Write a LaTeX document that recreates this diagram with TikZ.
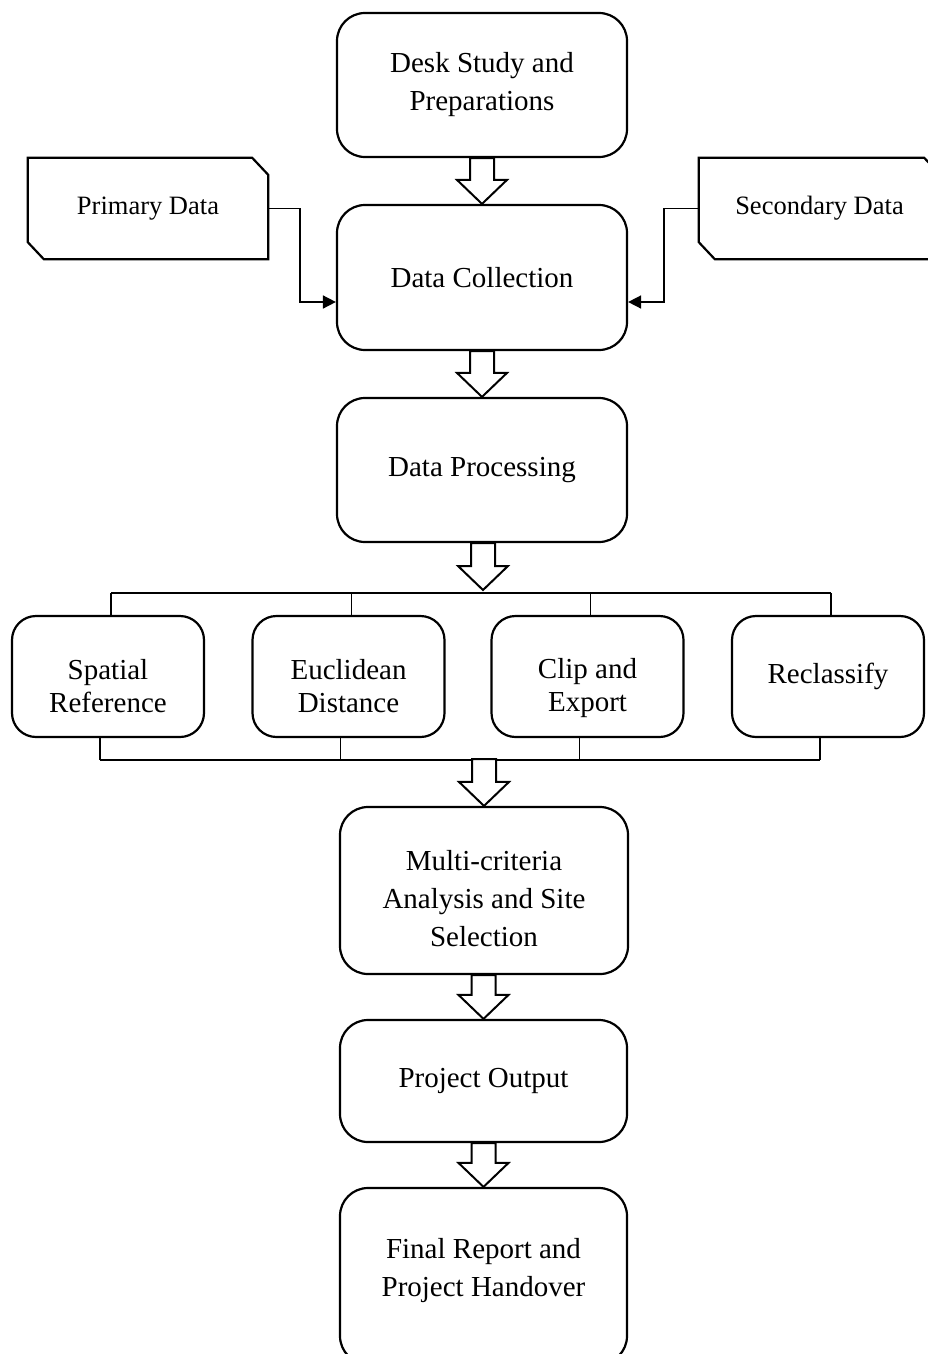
\documentclass[tikz,border=0pt]{standalone}
\usepackage{fontspec}
\setmainfont{Liberation Serif}
\usetikzlibrary{calc,arrows.meta}
\newcommand{\blkarrow}[2]{%
  \draw[barrow] ($(#2 |- #1)+(-12,0)$) -- ($(#2)+(-12,-24)$) -- ($(#2)+(-25,-24)$) -- (#2)
    -- ($(#2)+(25,-24)$) -- ($(#2)+(12,-24)$) -- ($(#2 |- #1)+(12,0)$) -- cycle;}
\begin{document}
\begin{tikzpicture}[x=1pt,y=-1pt,
  mainbox/.style={draw, line width=2.2pt, rounded corners=28pt, minimum width=290pt,
    inner sep=0pt, align=center, font=\fontsize{29}{38}\selectfont},
  smallbox/.style={draw, line width=2.2pt, rounded corners=24pt, minimum width=192pt,
    minimum height=121pt, inner sep=0pt, align=center},
  smalltext/.style={inner sep=0pt, align=center, font=\fontsize{29}{33}\selectfont},
  maintext/.style={inner sep=0pt, align=center, font=\fontsize{29}{38}\selectfont},
  datanode/.style={minimum width=240pt, minimum height=101pt, inner sep=0pt,
    font=\fontsize{26.5}{32}\selectfont},
  databorder/.style={draw, line width=2.2pt, line join=miter},
  barrow/.style={draw, line width=2pt, fill=white, line join=miter},
  conn/.style={line width=1.6pt, -{Triangle[length=13pt,width=13pt]}},
  bar/.style={line width=1.8pt}]
\useasboundingbox (0,0) rectangle (928,1354);

% main column
\node[mainbox, minimum height=144pt] (ds) at (482,85) {Desk Study and\\Preparations};
\node[mainbox, minimum height=145pt] (dc) at (482,277.5) {Data Collection};
\node[mainbox, minimum height=144pt] (dp) at (482,470) {Data Processing};
\node[mainbox, minimum width=288pt, minimum height=167pt] (mc) at (484,890.5) {};
\node[maintext] (mct) at (484,899) {Multi-criteria\\Analysis and Site\\Selection};
\node[mainbox, minimum width=287pt, minimum height=122pt] (po) at (483.5,1081) {Project Output};
\node[mainbox, minimum width=287pt, minimum height=176pt] (fr) at (483.5,1276) {};
\node[maintext] (frt) at (483.5,1271) {Final Report and\\Project Handover};

% data sources
\node[datanode] (pd) at (148,208.5) {Primary Data};
\draw[databorder] (pd.north west) -- ($(pd.north east)+(-16,0)$) -- ($(pd.north east)+(0,17)$)
  -- (pd.south east) -- ($(pd.south west)+(16,0)$) -- ($(pd.south west)+(0,-17)$) -- cycle;
\node[datanode, minimum width=241pt] (sd) at (819.5,208.5) {Secondary Data};
\draw[databorder] (sd.north west) -- ($(sd.north east)+(-16,0)$) -- ($(sd.north east)+(0,17)$)
  -- (sd.south east) -- ($(sd.south west)+(16,0)$) -- ($(sd.south west)+(0,-17)$) -- cycle;

\draw[conn] (pd.east) -| ($(dc.west)+(-36,24.5)$) -- ($(dc.west)+(0,24.5)$);
\draw[conn] (sd.west) -| ($(dc.east)+(36,24.5)$) -- ($(dc.east)+(0,24.5)$);

% processing steps
\node[smallbox] (sr) at (108,676.5) {};
\node[smalltext] (srt) at (108,686) {Spatial\\Reference};
\node[smallbox] (ed) at (348.5,676.5) {};
\node[smalltext] (edt) at (348.5,686) {Euclidean\\Distance};
\node[smallbox] (ce) at (587.5,676.5) {};
\node[smalltext] (cet) at (587.5,688) {Clip and\\Export};
\node[smallbox, font=\fontsize{29}{33}\selectfont] (rc) at (828,676.5) {Reclassify};

% brackets
\foreach \n in {sr,ed,ce,rc} {
  \draw[bar] ($(\n.north)+(3,0)$) -- ($(\n.north)+(3,-22)$);
  \draw[bar] ($(\n.south)+(-8,0)$) -- ($(\n.south)+(-8,22)$);
}
\draw[bar] ($(sr.north)+(3,-22)$) -- ($(rc.north)+(3,-22)$);
\draw[bar] ($(sr.south)+(-8,22)$) -- ($(rc.south)+(-8,22)$);

\coordinate (t3) at (483,590);
\coordinate (b4) at (481,759);

% block arrows
\blkarrow{ds.south}{dc.north}
\blkarrow{dc.south}{dp.north}
\blkarrow{dp.south}{t3}
\blkarrow{b4}{mc.north}
\blkarrow{mc.south}{po.north}
\blkarrow{po.south}{fr.north}
\end{tikzpicture}
\end{document}
